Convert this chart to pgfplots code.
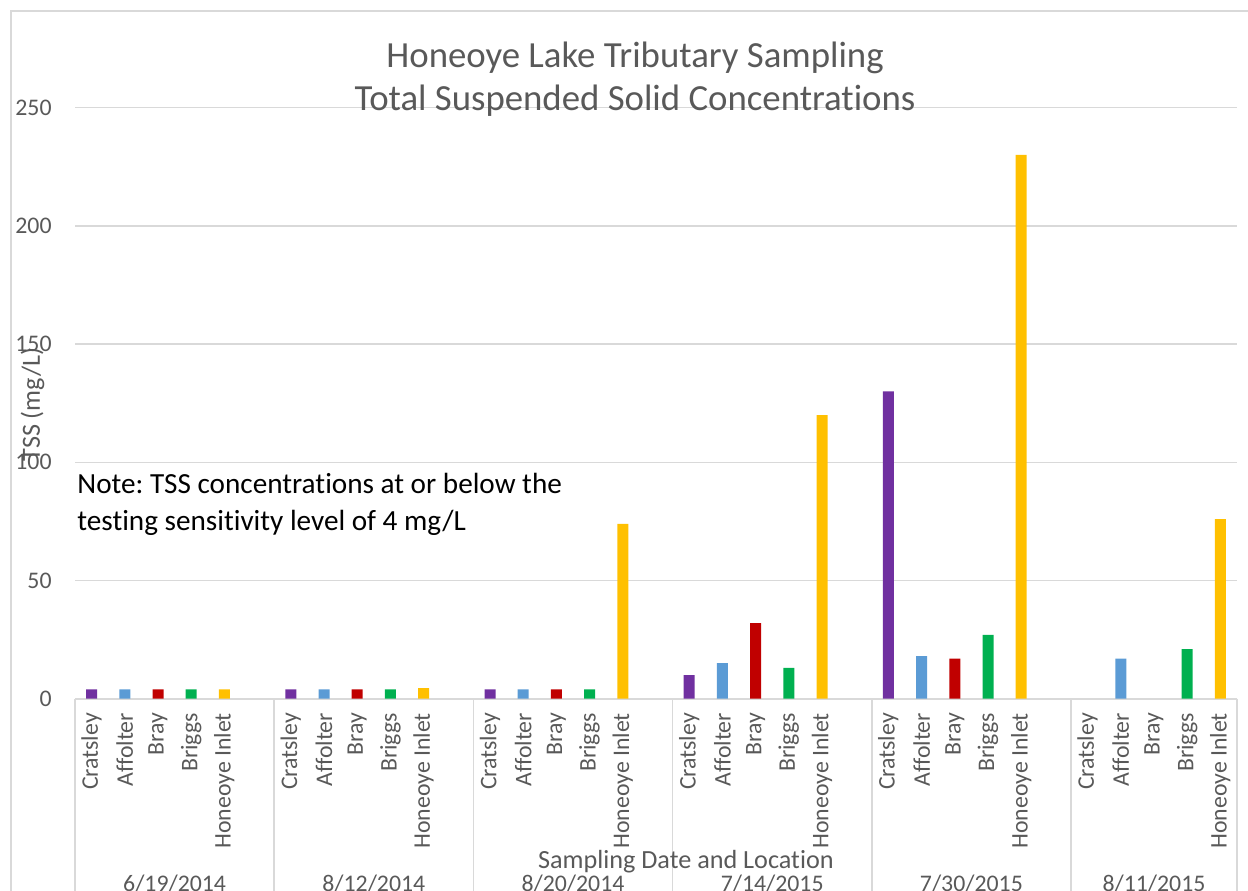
\documentclass[border=0pt]{standalone}
\usepackage{fontspec}
\setmainfont{Carlito}[Ligatures=NoCommon]
\usepackage{pgfplots}
\pgfplotsset{compat=1.18}
\frenchspacing
\definecolor{txt}{HTML}{595959}
\definecolor{grd}{HTML}{D9D9D9}
\definecolor{cpur}{HTML}{7030A0}
\definecolor{cblu}{HTML}{5B9BD5}
\definecolor{cred}{HTML}{C00000}
\definecolor{cgrn}{HTML}{00B050}
\definecolor{cyel}{HTML}{FFC000}
\newcommand{\tickfont}{\fontsize{11.9pt}{14pt}\selectfont}
\begin{document}
\begin{tikzpicture}
\begin{axis}[
  at={(0,0)}, anchor=south west,
  scale only axis, width=581pt, height=295.5pt,
  xmin=0, xmax=35, ymin=0, ymax=250,
  clip=false,
  axis x line*=bottom, axis y line*=left,
  y axis line style={draw=none},
  x axis line style={grd, line width=1pt},
  major tick length=0pt,
  ytick={0,50,100,150,200,250},
  ymajorgrids, grid style={grd, line width=0.75pt},
  yticklabel style={font=\tickfont, text=txt, anchor=east, inner sep=0pt, xshift=-11.5pt},
  /pgf/number format/assume math mode=true,
  xtick={0.5,1.5,2.5,3.5,4.5, 6.5,7.5,8.5,9.5,10.5, 12.5,13.5,14.5,15.5,16.5, 18.5,19.5,20.5,21.5,22.5, 24.5,25.5,26.5,27.5,28.5, 30.5,31.5,32.5,33.5,34.5},
  xticklabels={Cratsley,Affolter,Bray,Briggs,Honeoye Inlet,Cratsley,Affolter,Bray,Briggs,Honeoye Inlet,Cratsley,Affolter,Bray,Briggs,Honeoye Inlet,Cratsley,Affolter,Bray,Briggs,Honeoye Inlet,Cratsley,Affolter,Bray,Briggs,Honeoye Inlet,Cratsley,Affolter,Bray,Briggs,Honeoye Inlet},
  xticklabel style={font=\tickfont, text=txt, rotate=90, anchor=east, inner sep=0pt, xshift=-7pt},
  ybar, bar width=5.5pt, bar shift=0pt,
]
\addplot[draw=none, fill=cpur] coordinates {(0.5,4) (6.5,4) (12.5,4) (18.5,10) (24.5,130)};
\addplot[draw=none, fill=cblu] coordinates {(1.5,4) (7.5,4) (13.5,4) (19.5,15) (25.5,18) (31.5,17)};
\addplot[draw=none, fill=cred] coordinates {(2.5,4) (8.5,4) (14.5,4) (20.5,32) (26.5,17)};
\addplot[draw=none, fill=cgrn] coordinates {(3.5,4) (9.5,4) (15.5,4) (21.5,13) (27.5,27) (33.5,21)};
\addplot[draw=none, fill=cyel] coordinates {(4.5,4) (10.5,4.5) (16.5,74) (22.5,120) (28.5,230) (34.5,76)};

\pgfplotsinvokeforeach{0,6,12,18,24,30,35}{
  \draw[grd, line width=0.75pt] (axis cs:#1,0) -- ([yshift=-130pt]axis cs:#1,0);
}
\node[anchor=base, font=\tickfont, text=txt] at ([yshift=-96.6pt]axis cs:3,0) {6/19/2014};
\node[anchor=base, font=\tickfont, text=txt] at ([yshift=-96.6pt]axis cs:9,0) {8/12/2014};
\node[anchor=base, font=\tickfont, text=txt] at ([yshift=-96.6pt]axis cs:15,0) {8/20/2014};
\node[anchor=base, font=\tickfont, text=txt] at ([yshift=-96.6pt]axis cs:21,0) {7/14/2015};
\node[anchor=base, font=\tickfont, text=txt] at ([yshift=-96.6pt]axis cs:27,0) {7/30/2015};
\node[anchor=base, font=\tickfont, text=txt] at ([yshift=-96.6pt]axis cs:32.5,0) {8/11/2015};

\node[anchor=base, font=\fontsize{13.1pt}{16pt}\selectfont, text=txt] at ([yshift=-84.65pt]axis cs:18.40,0) {Sampling Date and Location};
\node[anchor=base, rotate=90, font=\fontsize{13.1pt}{16pt}\selectfont, text=txt] at ([xshift=-17.5pt, yshift=147pt]axis cs:0,0) {TSS (mg/L)};

\node[anchor=base, font=\fontsize{18.4pt}{22pt}\selectfont, text=txt] at ([yshift=315.85pt]axis cs:16.87,0) {Honeoye Lake Tributary Sampling};
\node[anchor=base, font=\fontsize{18.4pt}{22pt}\selectfont, text=txt] at ([yshift=294.35pt]axis cs:16.87,0) {Total Suspended Solid Concentrations};

\node[anchor=base west, inner sep=0pt, font=\fontsize{14.6pt}{17pt}\selectfont, text=black] at ([xshift=1pt, yshift=102.85pt]axis cs:0,0) {Note: TSS concentrations at or below the};
\node[anchor=base west, inner sep=0pt, font=\fontsize{14.6pt}{17pt}\selectfont, text=black] at ([xshift=1pt, yshift=84.35pt]axis cs:0,0) {testing sensitivity level of 4 mg/L};

\draw[grd, line width=0.75pt] ([xshift=-32pt, yshift=-200pt]axis cs:0,0) -- ([xshift=-32pt, yshift=343.85pt]axis cs:0,0) -- ([xshift=700pt, yshift=343.85pt]axis cs:0,0);
\end{axis}
\pgfresetboundingbox
\path[use as bounding box] (-37.5pt,-95.65pt) rectangle (586.5pt,349.35pt);
\end{tikzpicture}
\end{document}
